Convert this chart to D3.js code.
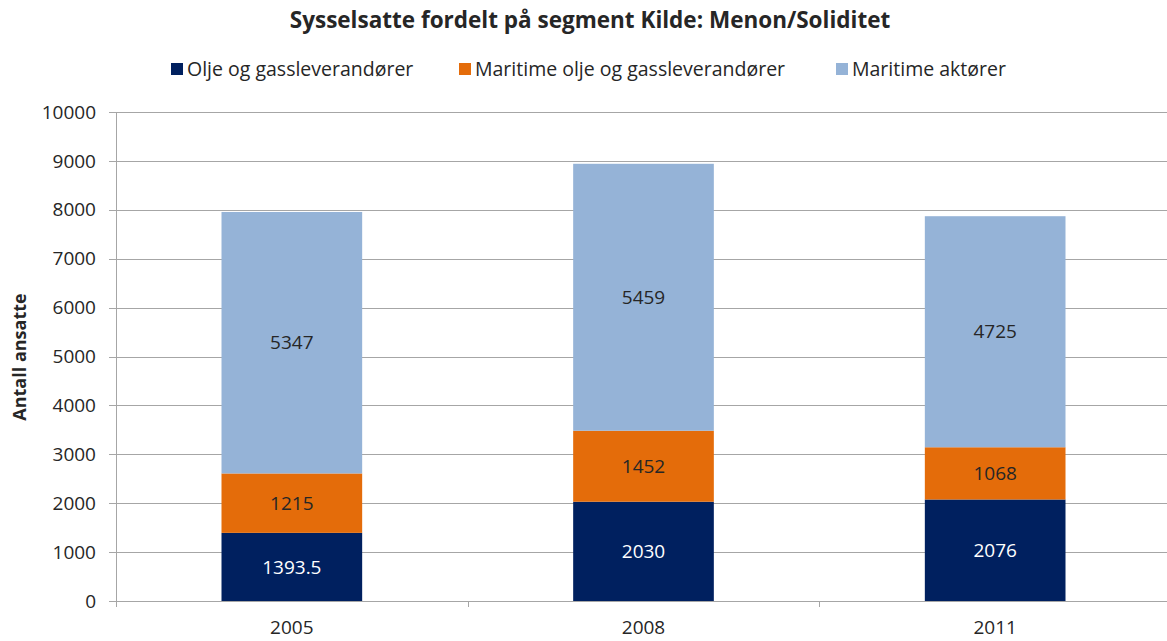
<!DOCTYPE html>
<html>
<head>
<meta charset="utf-8">
<script src="https://cdn.jsdelivr.net/npm/d3@7"></script>
<style>
  body { margin: 0; background: #fff; }
  text { font-family: "Open Sans", "Noto Sans", sans-serif; fill: #262626; }
</style>
</head>
<body>
<div id="graph"></div>
<script>
// Sysselsatte fordelt paa segment - stacked bars
let years = ["2005", "2008", "2011"];
let seriesNames = ["Olje og gassleverandører", "Maritime olje og gassleverandører", "Maritime aktører"];
let oljeGass = [1393.5, 2030, 2076];
let maritimeOljeGass = [1215, 1452, 1068];
let maritimeAktorer = [5347, 5459, 4725];
let yTicks = [0, 1000, 2000, 3000, 4000, 5000, 6000, 7000, 8000, 9000, 10000];
let colors = ["#00205F", "#E46C0A", "#95B3D7"];
let labelColors = ["#ffffff", "#262626", "#262626"];

let svgWidth = 1167;
let svgHeight = 641;
let margin = { top: 112, right: -4, bottom: 40, left: 116 };
let width = svgWidth - margin.left - margin.right;
let height = svgHeight - margin.top - margin.bottom;

let svg = d3.select("#graph")
  .append("svg")
  .attr("width", svgWidth)
  .attr("height", svgHeight);

let chartGroup = svg.append("g")
  .attr("transform", `translate(${margin.left}, ${margin.top})`);

// build rows for the stack
let rows = years.map((y, i) => ({
  year: y,
  s0: oljeGass[i],
  s1: maritimeOljeGass[i],
  s2: maritimeAktorer[i]
}));
let stacked = d3.stack().keys(["s0", "s1", "s2"])(rows);

let xScale = d3.scaleBand().domain(years).range([0, width]).paddingInner(0.6).paddingOuter(0.3);
let yScale = d3.scaleLinear().domain([0, 10000]).range([height, 0]);

// gridlines
chartGroup.append("g")
  .selectAll("line")
  .data(yTicks)
  .enter()
  .append("line")
  .attr("x1", -7)
  .attr("x2", width)
  .attr("y1", d => Math.round(yScale(d)) + 0.5)
  .attr("y2", d => Math.round(yScale(d)) + 0.5)
  .attr("stroke", "#a6a6a6")
  .attr("stroke-width", 1);

// y tick labels
chartGroup.append("g")
  .selectAll("text")
  .data(yTicks)
  .enter()
  .append("text")
  .attr("x", -20)
  .attr("y", d => yScale(d))
  .attr("dy", "0.35em")
  .attr("text-anchor", "end")
  .attr("font-size", "19px")
  .text(d => d);

// bars
let layers = chartGroup.selectAll(".layer")
  .data(stacked)
  .enter()
  .append("g")
  .attr("class", "layer")
  .attr("fill", (d, i) => colors[i]);

layers.selectAll("rect")
  .data(d => d)
  .enter()
  .append("rect")
  .attr("x", d => xScale(d.data.year))
  .attr("width", xScale.bandwidth())
  .attr("y", d => yScale(d[1]))
  .attr("height", d => yScale(d[0]) - yScale(d[1]));

// value labels
stacked.forEach(function(layer, i) {
  chartGroup.append("g")
    .selectAll("text")
    .data(layer)
    .enter()
    .append("text")
    .attr("x", d => xScale(d.data.year) + xScale.bandwidth() / 2)
    .attr("y", d => yScale((d[0] + d[1]) / 2))
    .attr("dy", "0.35em")
    .attr("text-anchor", "middle")
    .attr("font-size", "19px")
    .style("fill", labelColors[i])
    .text(d => d[1] - d[0]);
});

// axes lines
chartGroup.append("line")
  .attr("x1", 0.5).attr("x2", 0.5)
  .attr("y1", 0).attr("y2", height + 6)
  .attr("stroke", "#a6a6a6");

let xAxis = d3.axisBottom(xScale).tickSize(0).tickPadding(20);
let xg = chartGroup.append("g")
  .attr("transform", `translate(0, ${height})`)
  .call(xAxis);
xg.select(".domain").remove();
xg.selectAll("text").attr("font-size", "19px").attr("font-family", "Open Sans").style("fill", "#262626");

// category separators
chartGroup.append("g")
  .selectAll("line")
  .data([1, 2, 3])
  .enter()
  .append("line")
  .attr("x1", d => Math.round(d * width / 3) + 0.5)
  .attr("x2", d => Math.round(d * width / 3) + 0.5)
  .attr("y1", height)
  .attr("y2", height + 6)
  .attr("stroke", "#a6a6a6");

// title
svg.append("text")
  .attr("x", 590)
  .attr("y", 28)
  .attr("text-anchor", "middle")
  .attr("font-size", "22.5px")
  .attr("font-weight", "bold")
  .text("Sysselsatte fordelt på segment Kilde: Menon/Soliditet");

// legend
let legendX = [171, 459, 836];
let legend = svg.append("g")
  .selectAll("g")
  .data(seriesNames)
  .enter()
  .append("g")
  .attr("transform", (d, i) => `translate(${legendX[i]}, 63)`);
legend.append("rect")
  .attr("width", 12).attr("height", 12)
  .attr("fill", (d, i) => colors[i]);
legend.append("text")
  .attr("x", 16).attr("y", 6)
  .attr("dy", "0.35em")
  .attr("font-size", "19.5px")
  .text(d => d);

// y axis title
svg.append("text")
  .attr("transform", "translate(26, 357) rotate(-90)")
  .attr("text-anchor", "middle")
  .attr("font-size", "18px")
  .attr("font-weight", "bold")
  .text("Antall ansatte");
</script>
</body>
</html>
